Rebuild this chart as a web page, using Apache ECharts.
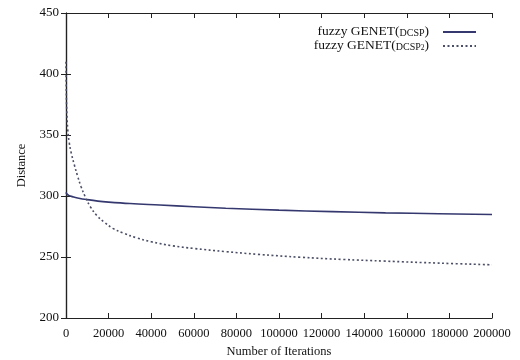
<!DOCTYPE html>
<html>
<head>
<meta charset="utf-8">
<script src="https://cdn.jsdelivr.net/npm/echarts@6/dist/echarts.min.js"></script>
<style>html,body{margin:0;padding:0;background:#fff}#c{width:520px;height:360px}</style>
</head>
<body>
<div id="c"></div>
<script>
// Data
var seriesNames = ['fuzzy GENET(DCSP)', 'fuzzy GENET(DCSP2)'];
var solidIter = [0, 500, 1500, 3000, 6000, 10000, 15000, 20000, 30000, 44000, 60000, 75000, 100000, 125000, 150000, 175000, 200000];
var solidVal  = [303, 301.5, 300.3, 299.5, 298.2, 297, 295.8, 295, 293.8, 292.6, 291.2, 290, 288.4, 287.2, 286.2, 285.5, 284.8];
var dashIter = [0, 150, 400, 800, 1500, 2500, 4000, 5500, 7000, 9000, 11500, 14500, 18000, 22000, 27000, 33000, 40000, 50000, 60000, 75000, 90000, 110000, 130000, 150000, 175000, 200000];
var dashVal  = [410, 385, 368, 355, 344, 335, 325, 316, 308, 299.5, 291, 284, 278.5, 273.5, 269.5, 265.8, 262.5, 259.2, 257, 254.4, 252.2, 249.8, 248, 246.6, 245, 243.6];
var xTicks = [0, 20000, 40000, 60000, 80000, 100000, 120000, 140000, 160000, 180000, 200000];
var yTicks = [200, 250, 300, 350, 400, 450];

function pairs(xs, ys) { return xs.map(function (x, i) { return [x, ys[i]]; }); }

var font = 'Liberation Serif';
var axisCol = '#222';
var txt = '#111';
var chart = echarts.init(document.getElementById('c'));
var frameLine = { show: true, lineStyle: { color: axisCol, width: 1.2 } };
var tick = { show: true, inside: true, length: 5, lineStyle: { color: axisCol } };
chart.setOption({
  backgroundColor: '#fff',
  animation: false,
  grid: { left: 66, right: 28, top: 13, bottom: 42, containLabel: false, outerBoundsMode: 'none' },
  legend: {
    orient: 'vertical',
    right: 38,
    top: 19,
    align: 'right',
    itemWidth: 33,
    itemHeight: 8,
    itemGap: 0,
    itemStyle: { opacity: 0, borderWidth: 0 },
    data: seriesNames,
    formatter: function (n) {
      return n === seriesNames[0]
        ? '{n|fuzzy GENET(}{s|DCSP}{n|)}'
        : '{n|fuzzy GENET(}{s|DCSP}{sub|2}{n|)}';
    },
    textStyle: {
      fontFamily: font, color: txt, padding: [0, 9, 0, 0],
      rich: {
        n: { fontFamily: font, fontSize: 13.5, color: txt, lineHeight: 12, verticalAlign: 'bottom' },
        s: { fontFamily: font, fontSize: 10, color: txt, lineHeight: 12, verticalAlign: 'bottom' },
        sub: { fontFamily: font, fontSize: 7.5, color: txt, lineHeight: 12, verticalAlign: 'bottom' }
      }
    }
  },
  xAxis: [{
    type: 'value', min: 0, max: 200000, interval: 20000, position: 'bottom',
    name: 'Number of Iterations', nameLocation: 'middle', nameGap: 27,
    nameTextStyle: { fontFamily: font, fontSize: 12.5, color: txt },
    axisLine: frameLine, axisTick: tick, splitLine: { show: false },
    axisLabel: { fontFamily: font, fontSize: 12.5, color: txt, margin: 9,
      formatter: function (v) { return xTicks.indexOf(v) >= 0 ? String(v) : ''; } }
  }, {
    type: 'value', min: 0, max: 200000, interval: 20000, position: 'top',
    axisLine: frameLine, axisTick: tick, axisLabel: { show: false }, splitLine: { show: false }
  }],
  yAxis: [{
    type: 'value', min: 200, max: 450, interval: 50, position: 'left',
    name: 'Distance', nameLocation: 'middle', nameGap: 38, nameRotate: 90,
    nameTextStyle: { fontFamily: font, fontSize: 12.5, color: txt },
    axisLine: frameLine, axisTick: tick, splitLine: { show: false },
    axisLabel: { fontFamily: font, fontSize: 13, color: txt, margin: 7,
      formatter: function (v) { return yTicks.indexOf(v) >= 0 ? String(v) : ''; } }
  }, {
    type: 'value', min: 200, max: 450, interval: 50, position: 'right',
    axisLine: frameLine, axisTick: tick, axisLabel: { show: false }, splitLine: { show: false }
  }],
  series: [{
    name: seriesNames[0], type: 'line', symbol: 'none', smooth: 0.4,
    data: pairs(solidIter, solidVal),
    lineStyle: { color: '#34386e', width: 1.6 }, itemStyle: { color: '#34386e' }
  }, {
    name: seriesNames[1], type: 'line', symbol: 'none', smooth: 0.4,
    data: pairs(dashIter, dashVal),
    lineStyle: { color: '#4a4e66', width: 1.6, type: [2, 2.5] }, itemStyle: { color: '#4a4e66' }
  }]
});
</script>
</body>
</html>
